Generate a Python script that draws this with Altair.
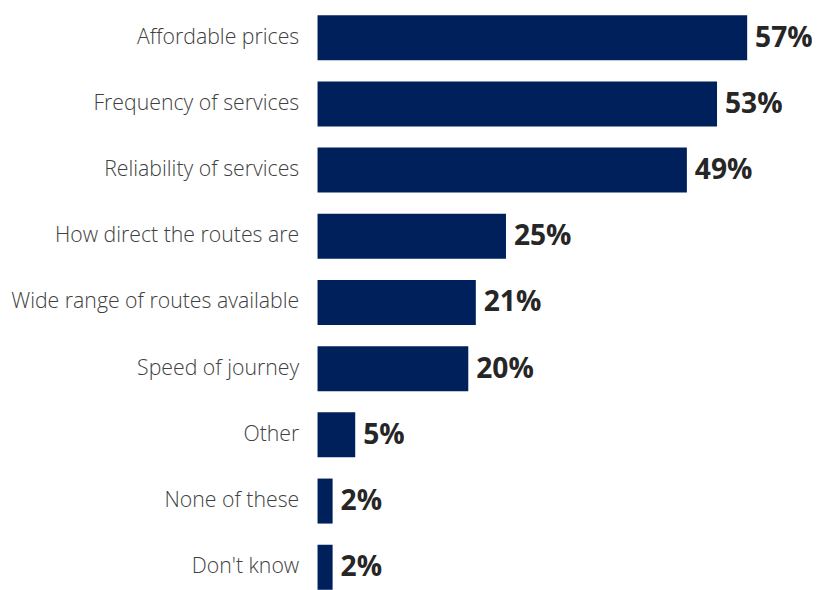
import altair as alt
import pandas as pd

categories = ["Affordable prices", "Frequency of services", "Reliability of services",
              "How direct the routes are", "Wide range of routes available",
              "Speed of journey", "Other", "None of these", "Don't know"]
values = [57, 53, 49, 25, 21, 20, 5, 2, 2]
labels = [f"{v}%" for v in values]

df = pd.DataFrame({"cat": categories, "val": values, "lab": labels})

y = alt.Y("cat:N", sort=categories, title=None,
          scale=alt.Scale(paddingInner=0.32, paddingOuter=0, round=False),
          axis=alt.Axis(ticks=False, domain=False, labelPadding=19, labelLimit=400,
                        labelFont="Open Sans", labelFontSize=21.5, labelColor="#404040",
                        labelFontWeight=300))
x = alt.X("val:Q", title=None, scale=alt.Scale(domain=[0, 65.6], nice=False), axis=None)

bars = alt.Chart(df).mark_bar(color="#00205B").encode(x=x, y=y)
text = alt.Chart(df).mark_text(align="left", dx=8, font="Open Sans", fontSize=28.5,
                               fontWeight="bold", color="#262626").encode(
    x=x, y=alt.Y("cat:N", sort=categories), text="lab:N")

chart = (bars + text).properties(
    width=500, height=581,
    padding={"left": 313, "top": 4, "right": 0, "bottom": 0},
    autosize=alt.AutoSizeParams(type="none")
).configure_view(stroke=None)

chart.save("out.html", embed_options={"renderer": "svg", "actions": False})
